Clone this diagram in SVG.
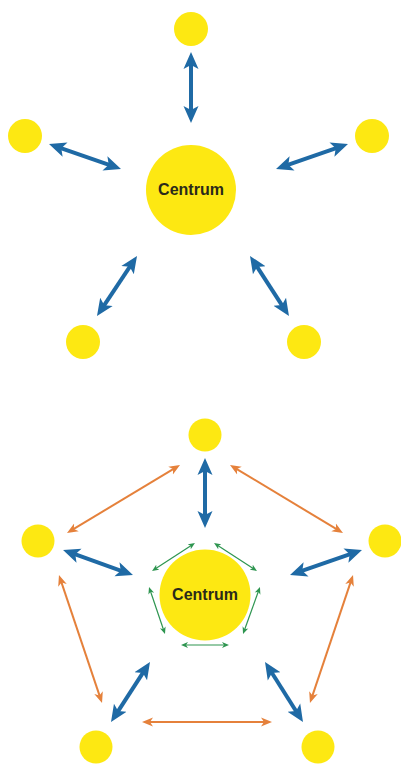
<svg xmlns="http://www.w3.org/2000/svg" width="401" height="764" viewBox="0 0 401 764">
  <style>
    .node { fill: #fde812; }
    .label { font-family: "Liberation Sans", Arial, sans-serif; font-weight: bold; font-size: 16px; fill: #2a2a1a; text-anchor: middle; dominant-baseline: central; }
    .blue { stroke: #1f6aa5; stroke-width: 4; fill: none; marker-start: url(#headBlue); marker-end: url(#headBlue); }
    .orange { stroke: #e5813b; stroke-width: 2; fill: none; marker-start: url(#headOrange); marker-end: url(#headOrange); }
    .green { stroke: #2e9550; stroke-width: 1.2; fill: none; marker-start: url(#headGreen); marker-end: url(#headGreen); }
  </style>
  <defs>
    <marker id="headBlue" markerUnits="userSpaceOnUse" viewBox="0 -9 18 18" markerWidth="18" markerHeight="18" refX="6" refY="0" orient="auto-start-reverse">
      <path d="M0,-7.5 L17,0 L0,7.5 L4,0 Z" fill="#1f6aa5"/>
    </marker>
    <marker id="headOrange" markerUnits="userSpaceOnUse" viewBox="0 -5 12 10" markerWidth="12" markerHeight="10" refX="4" refY="0" orient="auto-start-reverse">
      <path d="M0,-4.5 L11,0 L0,4.5 L3,0 Z" fill="#e5813b"/>
    </marker>
    <marker id="headGreen" markerUnits="userSpaceOnUse" viewBox="0 -3.5 8 7" markerWidth="8" markerHeight="7" refX="3" refY="0" orient="auto-start-reverse">
      <path d="M0,-3 L7,0 L0,3 L2,0 Z" fill="#2e9550"/>
    </marker>
  </defs>

  <!-- Star layout: centre linked to five satellites -->
  <g id="star-centre"><circle class="node" cx="191" cy="190" r="45"/><text class="label" x="191" y="189">Centrum</text></g>
  <g id="star-top"><circle class="node" cx="191" cy="29" r="17"/></g>
  <g id="star-left"><circle class="node" cx="25" cy="136" r="17"/></g>
  <g id="star-right"><circle class="node" cx="372" cy="136" r="17"/></g>
  <g id="star-bottom-left"><circle class="node" cx="83" cy="342" r="17"/></g>
  <g id="star-bottom-right"><circle class="node" cx="304" cy="342" r="17"/></g>

  <g id="star-connectors">
    <line class="blue" x1="191" y1="63" x2="191" y2="112"/>
    <line class="blue" x1="59.4" y1="147.6" x2="110.6" y2="165.4"/>
    <line class="blue" x1="286.4" y1="165.4" x2="337.6" y2="147.6"/>
    <line class="blue" x1="103.1" y1="306.8" x2="130.9" y2="265.2"/>
    <line class="blue" x1="256" y1="265.2" x2="283" y2="306.8"/>
  </g>

  <!-- Network layout: centre, satellites and ring links -->
  <g id="net-centre"><circle class="node" cx="205" cy="595" r="45.5"/><text class="label" x="205" y="594">Centrum</text></g>
  <g id="net-top"><circle class="node" cx="205" cy="435" r="16.5"/></g>
  <g id="net-left"><circle class="node" cx="38" cy="541" r="16.5"/></g>
  <g id="net-right"><circle class="node" cx="385" cy="541" r="16.5"/></g>
  <g id="net-bottom-left"><circle class="node" cx="96" cy="747" r="16.5"/></g>
  <g id="net-bottom-right"><circle class="node" cx="318" cy="747" r="16.5"/></g>

  <g id="net-connectors">
    <line class="blue" x1="205" y1="469" x2="205" y2="517"/>
    <line class="blue" x1="73.4" y1="553.7" x2="122.6" y2="571.3"/>
    <line class="blue" x1="300.4" y1="571.4" x2="351.6" y2="553.6"/>
    <line class="blue" x1="117" y1="712.8" x2="144" y2="671.2"/>
    <line class="blue" x1="270.9" y1="671.3" x2="297.1" y2="712.7"/>

    <line class="orange" x1="73" y1="529.4" x2="174" y2="468.6"/>
    <line class="orange" x1="236" y1="468.6" x2="337" y2="529.4"/>
    <line class="orange" x1="61.2" y1="581.6" x2="99.8" y2="696.4"/>
    <line class="orange" x1="350.8" y1="581.6" x2="312.2" y2="696.4"/>
    <line class="orange" x1="149" y1="722" x2="265" y2="722"/>

    <line class="green" x1="155.4" y1="568.8" x2="191.6" y2="545.2"/>
    <line class="green" x1="217.4" y1="545.2" x2="253.6" y2="568.8"/>
    <line class="green" x1="150.3" y1="590.8" x2="163.7" y2="630.2"/>
    <line class="green" x1="258.6" y1="590.8" x2="244.4" y2="630.2"/>
    <line class="green" x1="185" y1="645" x2="225" y2="645"/>
  </g>
</svg>
